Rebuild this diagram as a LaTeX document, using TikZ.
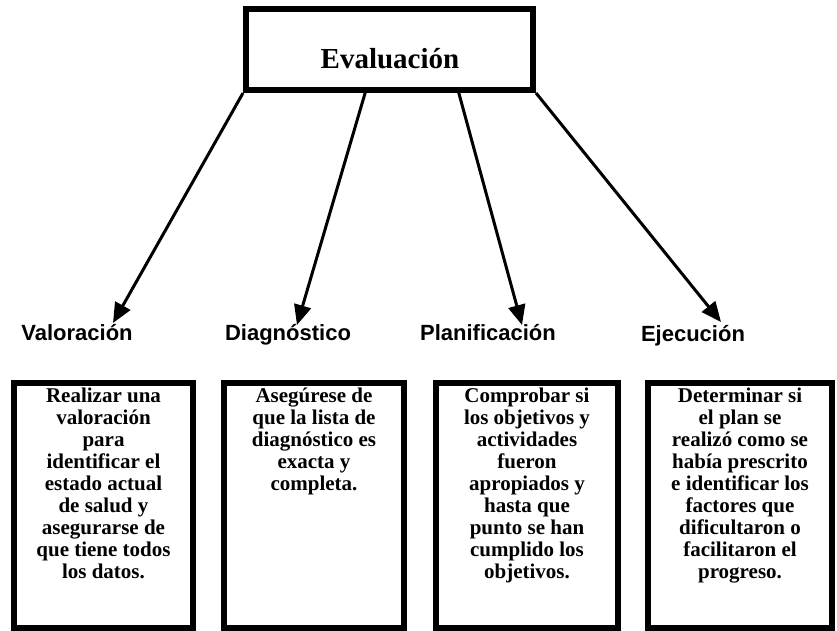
\documentclass[tikz,border=0pt]{standalone}
\usepackage{fontspec}
\setmainfont{Liberation Serif}
\newfontfamily\labfont{Liberation Sans}
\usetikzlibrary{arrows.meta}
\tikzset{
  frame/.style={draw,line width=6pt,inner sep=0pt},
  lab/.style={font=\labfont\bfseries\fontsize{22}{24}\selectfont,inner sep=0pt,anchor=base},
  body/.style={font=\bfseries\fontsize{21}{22}\selectfont,align=center,inner sep=0pt,anchor=north},
  arr/.style={line width=3pt,-{Triangle[length=20pt,width=17pt]}}
}
\begin{document}
\begin{tikzpicture}[x=1pt,y=-1pt]
\useasboundingbox (0,0) rectangle (837,630);
% top box
\node[frame,minimum width=287pt,minimum height=81pt] (eval) at (389.5,49.5) {};
\node[font=\bfseries\fontsize{29}{31}\selectfont,inner sep=0pt,anchor=base] (evaltxt) at (390,68) {Evaluación};
% labels
\node[lab] (l1) at (77,340) {Valoración};
\node[lab] (l2) at (288,340) {Diagnóstico};
\node[lab] (l3) at (488,340) {Planificación};
\node[lab] (l4) at (693,341) {Ejecución};
% arrows
\coordinate (s1) at (eval.south west);
\coordinate (s2) at (366,90);
\coordinate (s3) at (458,90);
\coordinate (s4) at (eval.south east);
\coordinate (t1) at (113,323);
\coordinate (t2) at (297,325);
\coordinate (t3) at (522,325);
\coordinate (t4) at (721,322);
\draw[arr] (s1) -- (t1);
\draw[arr] (s2) -- (t2);
\draw[arr] (s3) -- (t3);
\draw[arr] (s4) -- (t4);
% bottom boxes
\node[frame,anchor=north west,minimum width=179pt,minimum height=245pt] (b1) at (11,380) {};
\node[frame,anchor=north west,minimum width=180pt,minimum height=245pt] (b2) at (221,380) {};
\node[frame,anchor=north west,minimum width=182pt,minimum height=245pt] (b3) at (433,380) {};
\node[frame,anchor=north west,minimum width=184pt,minimum height=245pt] (b4) at (645,380) {};
\node[body] (x1) at ([yshift=-8pt]b1.north) {Realizar una\\ valoración\\ para\\ identificar el\\ estado actual\\ de salud y\\ asegurarse de\\ que tiene todos\\ los datos.};
\node[body] (x2) at ([yshift=-8pt]b2.north) {Asegúrese de\\ que la lista de\\ diagnóstico es\\ exacta y\\ completa.};
\node[body] (x3) at ([yshift=-8pt]b3.north) {Comprobar si\\ los objetivos y\\ actividades\\ fueron\\ apropiados y\\ hasta que\\ punto se han\\ cumplido los\\ objetivos.};
\node[body] (x4) at ([yshift=-8pt]b4.north) {Determinar si\\ el plan se\\ realizó como se\\ había prescrito\\ e identificar los\\ factores que\\ dificultaron o\\ facilitaron el\\ progreso.};
\end{tikzpicture}
\end{document}
